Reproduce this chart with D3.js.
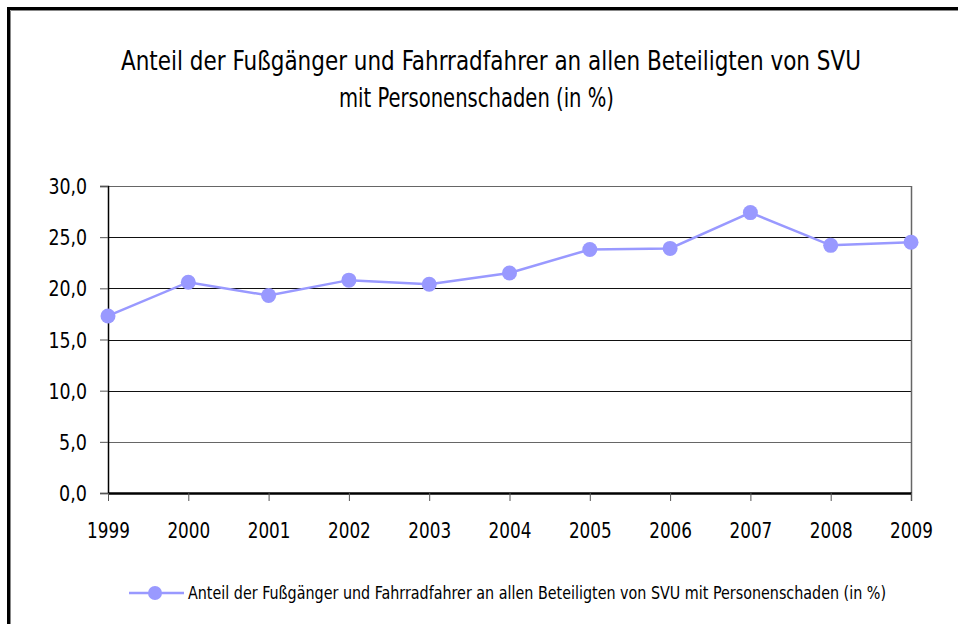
<!DOCTYPE html>
<html>
<head>
<meta charset="utf-8">
<script src="https://cdn.jsdelivr.net/npm/d3@7/dist/d3.min.js"></script>
<style>
  html, body { margin: 0; padding: 0; background: #fff; }
  svg { display: block; }
  text { font-family: "DejaVu Sans Condensed", "DejaVu Sans", sans-serif; fill: #000; }
</style>
</head>
<body>
<svg id="chart" width="958" height="624"></svg>
<script>
// Share of pedestrians and cyclists among all people involved in road accidents with injuries
const years = ["1999", "2000", "2001", "2002", "2003", "2004", "2005", "2006", "2007", "2008", "2009"];
const shares = [17.3, 20.6, 19.3, 20.8, 20.4, 21.5, 23.8, 23.9, 27.4, 24.2, 24.5];
const yTicks = [0, 5, 10, 15, 20, 25, 30];
const titleLines = [
  "Anteil der Fußgänger und Fahrradfahrer an allen Beteiligten von SVU",
  "mit Personenschaden (in %)"
];
const seriesName = "Anteil der Fußgänger und Fahrradfahrer an allen Beteiligten von SVU mit Personenschaden (in %)";

const W = 958, H = 624;
const color = "#9999FF";
const plot = { left: 108, right: 911, top: 186, bottom: 493 };

const svg = d3.select("#chart");

// Fit a numeric label to a narrow width: digits 10.7px, comma 6px
function fitNumber(sel) {
  sel.each(function () {
    const s = this.textContent;
    const digits = (s.match(/\d/g) || []).length;
    const commas = (s.match(/,/g) || []).length;
    d3.select(this)
      .attr("textLength", digits * 10.7 + commas * 6.5)
      .attr("lengthAdjust", "spacingAndGlyphs");
  });
}

// Outer frame: black edge with a thin grey inner line, open to the right and bottom
svg.append("path")
  .attr("d", `M8.5,${H + 5}V8.5H${W + 5}`)
  .attr("fill", "none").attr("stroke", "#000").attr("stroke-width", 3);
svg.append("path")
  .attr("d", `M10.5,${H + 5}V10.5H${W + 5}`)
  .attr("fill", "none").attr("stroke", "#888").attr("stroke-width", 1);

// Title (two lines, condensed)
const titleLayout = [
  { x: 121, y: 69.5, w: 740 },
  { x: 339, y: 107, w: 275 }
];
svg.selectAll("text.title").data(titleLines).join("text")
  .attr("class", "title")
  .attr("x", (d, i) => titleLayout[i].x)
  .attr("y", (d, i) => titleLayout[i].y)
  .attr("font-size", 27)
  .attr("textLength", (d, i) => titleLayout[i].w)
  .attr("lengthAdjust", "spacingAndGlyphs")
  .text(d => d);

// Scales
const x = d3.scalePoint().domain(years).range([plot.left, plot.right]);
const y = d3.scaleLinear().domain([0, 30]).range([plot.bottom, plot.top]);

// Horizontal gridlines
svg.append("g").selectAll("line").data(yTicks.filter(v => v > 0)).join("line")
  .attr("x1", plot.left).attr("x2", plot.right)
  .attr("y1", d => Math.round(y(d)) + 0.5).attr("y2", d => Math.round(y(d)) + 0.5)
  .attr("stroke", d => (d === 30 || d === 5) ? "#666" : "#111")
  .attr("stroke-width", 1);

// Right edge of the plot area
svg.append("line")
  .attr("x1", plot.right + 0.5).attr("x2", plot.right + 0.5)
  .attr("y1", plot.top).attr("y2", plot.bottom + 8)
  .attr("stroke", "#666").attr("stroke-width", 1.5);

// Y axis
const yAxis = svg.append("g")
  .attr("transform", `translate(${plot.left},0)`)
  .call(d3.axisLeft(y).tickValues(yTicks).tickSize(8).tickPadding(13)
    .tickFormat(d => d3.format(".1f")(d).replace(".", ",")));
yAxis.select(".domain").attr("stroke", "#000").attr("stroke-width", 1.5);
yAxis.selectAll(".tick line").attr("stroke", "#555").attr("stroke-width", 1);
yAxis.selectAll(".tick text")
  .attr("font-size", 21)
  .attr("font-family", null)
  .attr("dy", "0.36em")
  .call(fitNumber);

// X axis
const xAxis = svg.append("g")
  .attr("transform", `translate(0,${plot.bottom})`)
  .call(d3.axisBottom(x).tickSize(8).tickPadding(0).tickSizeOuter(0));
xAxis.select(".domain").attr("stroke", "#000").attr("stroke-width", 2.5);
xAxis.selectAll(".tick line").attr("stroke", "#555").attr("stroke-width", 1);
xAxis.selectAll(".tick text")
  .attr("font-size", 21)
  .attr("font-family", null)
  .attr("y", 45)
  .attr("dy", null)
  .call(fitNumber);

// Series line and markers
const line = d3.line().x((d, i) => x(years[i])).y(d => y(d));
svg.append("path")
  .datum(shares)
  .attr("d", line)
  .attr("fill", "none")
  .attr("stroke", color)
  .attr("stroke-width", 2.5);
svg.append("g").selectAll("circle").data(shares).join("circle")
  .attr("cx", (d, i) => x(years[i]))
  .attr("cy", d => y(d))
  .attr("r", 7.5)
  .attr("fill", color);

// Legend
const legendY = 593;
svg.append("line")
  .attr("x1", 129).attr("x2", 184)
  .attr("y1", legendY).attr("y2", legendY)
  .attr("stroke", color).attr("stroke-width", 2.5);
svg.append("circle")
  .attr("cx", 155).attr("cy", legendY).attr("r", 7)
  .attr("fill", color);
svg.append("text")
  .attr("x", 188).attr("y", legendY + 6)
  .attr("font-size", 17)
  .attr("textLength", 698)
  .attr("lengthAdjust", "spacingAndGlyphs")
  .text(seriesName);
</script>
</body>
</html>
